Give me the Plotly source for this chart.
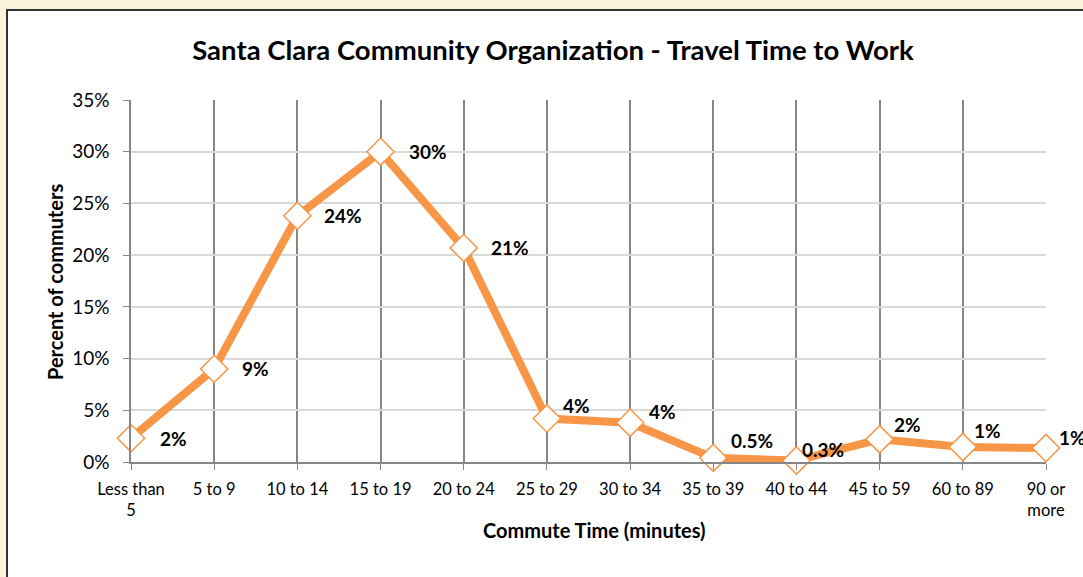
import plotly.graph_objects as go

categories = ["Less than<br>5", "5 to 9", "10 to 14", "15 to 19", "20 to 24", "25 to 29",
              "30 to 34", "35 to 39", "40 to 44", "45 to 59", "60 to 89", "90 or<br>more"]
percent_values = [2.3, 9.0, 23.8, 30.0, 20.7, 4.2, 3.8, 0.4, 0.15, 2.2, 1.45, 1.35]
label_texts = ["2%", "9%", "24%", "30%", "21%", "4%", "4%", "0.5%", "0.3%", "2%", "1%", "1%"]
y_tick_values = [0, 5, 10, 15, 20, 25, 30, 35]
y_tick_labels = ["0%", "5%", "10%", "15%", "20%", "25%", "30%", "35%"]

# label offsets in pixels (style)
label_dx = [42, 41, 46, 47, 46, 30, 32, 39, 27, 28, 25, 26]
label_dy = [0, 0, 0, 0, 0, 13, 11, 17, 11, 15, 17, 11]

FONT = "Lato"
ORANGE = "#F79646"
W, H = 1083, 577
L, R, T, B = 131, 37, 100, 115
pw, ph = W - L - R, H - T - B

def px_x(x):
    return (x - L) / pw

def px_y(y):
    return (H - B - y) / ph

x_idx = list(range(len(categories)))

fig = go.Figure()
fig.add_trace(go.Scatter(
    x=x_idx, y=percent_values, mode="lines+markers",
    line=dict(color=ORANGE, width=8),
    marker=dict(symbol="diamond", size=21, color="white",
                line=dict(color=ORANGE, width=1.5)),
    cliponaxis=False, hoverinfo="skip", showlegend=False,
))

annotations = []
for i, (v, t) in enumerate(zip(percent_values, label_texts)):
    annotations.append(dict(
        x=i, y=v, xref="x", yref="y", text="<b>" + t + "</b>", showarrow=False,
        xshift=label_dx[i], yshift=label_dy[i],
        font=dict(family=FONT, size=19, color="black"),
    ))

annotations.append(dict(
    text="<b>Commute Time (minutes)</b>", x=px_x(594), y=px_y(530),
    xref="paper", yref="paper", xanchor="center", yanchor="middle", showarrow=False,
    font=dict(family=FONT, size=20, color="black"),
))
annotations.append(dict(
    text="<b>Percent of commuters</b>", x=px_x(55), y=px_y(282),
    xref="paper", yref="paper", xanchor="center", yanchor="middle",
    showarrow=False, textangle=-90,
    font=dict(family=FONT, size=20, color="black"),
))

shapes = [dict(
    type="rect", xref="paper", yref="paper", layer="below",
    x0=px_x(7), x1=px_x(1100), y0=px_y(600), y1=px_y(10),
    fillcolor="white", line=dict(color="#333333", width=2),
)]

fig.update_layout(
    width=W, height=H,
    margin=dict(l=L, r=R, t=T, b=B, pad=0),
    paper_bgcolor="#fcf3dd", plot_bgcolor="rgba(0,0,0,0)",
    title=dict(text="<b>Santa Clara Community Organization - Travel Time to Work</b>",
               xref="container", x=553 / W, xanchor="center",
               yref="container", y=1 - 50 / H, yanchor="middle",
               font=dict(family=FONT, size=27.5, color="black")),
    xaxis=dict(
        tickmode="array", tickvals=x_idx, ticktext=categories,
        range=[0, len(categories) - 1],
        showgrid=True, gridcolor="#868686", gridwidth=1.5,
        showline=True, linecolor="#868686", linewidth=1.5,
        ticks="outside", ticklen=6, tickcolor="#868686",
        ticklabelstandoff=5,
        tickfont=dict(family=FONT, size=16.5, color="black"),
        zeroline=False, fixedrange=True,
    ),
    yaxis=dict(
        tickmode="array", tickvals=y_tick_values, ticktext=y_tick_labels,
        range=[0, 35],
        showgrid=True, gridcolor="#d9d9d9", gridwidth=1.5,
        showline=True, linecolor="#868686", linewidth=1.5,
        ticks="outside", ticklen=6, tickcolor="#868686",
        ticklabelstandoff=10,
        tickfont=dict(family=FONT, size=19, color="black"),
        zeroline=False, fixedrange=True,
    ),
    annotations=annotations,
    shapes=shapes,
)

fig.write_html("out.html", config={"displayModeBar": False},
               post_script="document.body.style.margin='0';document.body.style.overflow='hidden';")
